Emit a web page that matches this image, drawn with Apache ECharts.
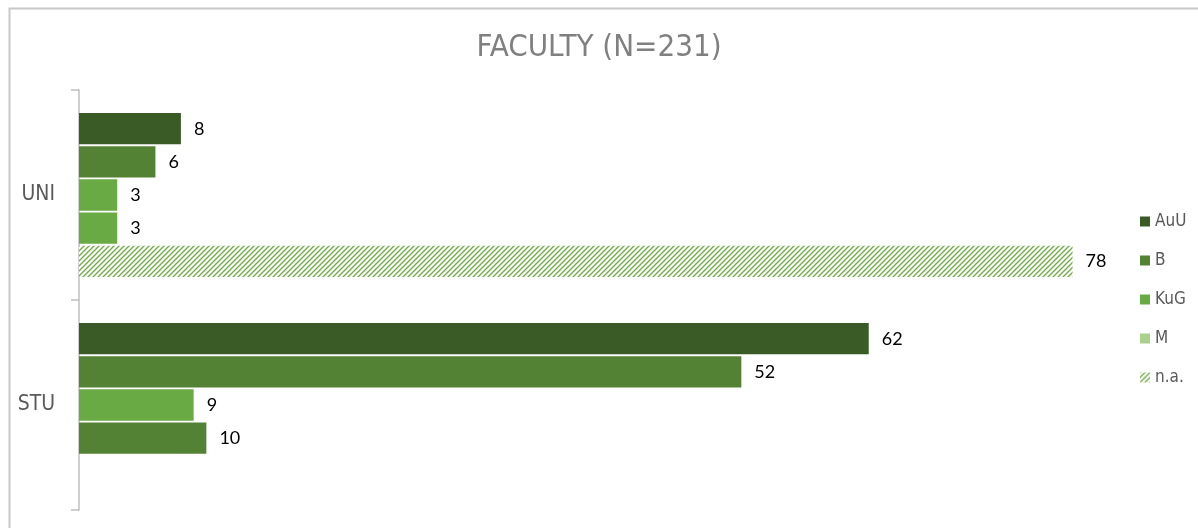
<!DOCTYPE html>
<html>
<head>
<meta charset="utf-8">
<script src="https://cdn.jsdelivr.net/npm/echarts@6/dist/echarts.min.js"></script>
<style>
html,body{margin:0;padding:0;background:#fff;}
#chart{width:1198px;height:528px;}
</style>
</head>
<body>
<div id="chart"></div>
<script>
const categories = ['UNI', 'STU'];
const seriesNames = ['AuU', 'B', 'KuG', 'M', 'n.a.'];
const auuValues = [8, 62];
const bValues = [6, 52];
const kugValues = [3, 9];
const mValues = [3, 10];
const naValues = [78, null];
const titleText = 'FACULTY (N=231)';

const cDark = '#3a5a26';
const cMid = '#548235';
const cKuG = '#6aaa44';
const cM = '#a9d18e';
const cHatch = '#70ad47';

function hatchCanvas() {
  const s = 5;
  const c = document.createElement('canvas');
  c.width = s; c.height = s;
  const ctx = c.getContext('2d');
  ctx.fillStyle = '#ffffff';
  ctx.fillRect(0, 0, s, s);
  ctx.strokeStyle = cHatch;
  ctx.lineWidth = 1.4;
  ctx.beginPath();
  ctx.moveTo(-1, s + 1); ctx.lineTo(s + 1, -1);
  ctx.moveTo(-1, 1); ctx.lineTo(1, -1);
  ctx.moveTo(s - 1, s + 1); ctx.lineTo(s + 1, s - 1);
  ctx.stroke();
  return c;
}
const hatch = { image: hatchCanvas(), repeat: 'repeat' };

const labelStyle = {
  show: true, position: 'right', distance: 13,
  color: '#000', fontSize: 18, fontFamily: 'Lato',
  formatter: p => (p.value == null ? '' : p.value)
};

function mk(name, values, color, perColors) {
  return {
    name, type: 'bar',
    data: values.map((v, i) => perColors && perColors[i] ? { value: v, itemStyle: { color: perColors[i] } } : v),
    itemStyle: { color },
    label: labelStyle,
    barGap: '6%',
    barCategoryGap: '22%'
  };
}

const chart = echarts.init(document.getElementById('chart'));
chart.setOption({
  animation: false,
  backgroundColor: '#fff',
  graphic: [{
    type: 'rect', left: 7, top: 6,
    shape: { width: 1400, height: 700 },
    style: { fill: 'none', stroke: '#c8c8c8', lineWidth: 2 },
    silent: true
  }],
  title: {
    text: titleText, left: 'center', top: 27,
    textStyle: { color: '#808080', fontSize: 31, fontWeight: 'normal', fontFamily: 'DejaVu Sans Condensed' }
  },
  legend: {
    orient: 'vertical', left: 1135, top: 208,
    itemWidth: 10, itemHeight: 10, itemGap: 22,
    textStyle: { color: '#595959', fontSize: 17, fontFamily: 'DejaVu Sans Condensed' },
    data: seriesNames.map((n, i) => ({ name: n, icon: 'rect', itemStyle: i === 3 ? { color: cM } : undefined }))
  },
  grid: { left: 79, right: 100, top: 90, bottom: 18, containLabel: false },
  xAxis: { type: 'value', min: 0, max: 80, show: false },
  yAxis: {
    type: 'category', data: categories, inverse: true,
    axisLine: { lineStyle: { color: '#bfbfbf', width: 1.5 } },
    axisTick: { show: true, length: 8, lineStyle: { color: '#bfbfbf', width: 1.5 } },
    axisLabel: { color: '#595959', fontSize: 21, fontFamily: 'DejaVu Sans Condensed', margin: 24 }
  },
  series: [
    mk('AuU', auuValues, cDark),
    mk('B', bValues, cMid),
    mk('KuG', kugValues, cKuG),
    mk('M', mValues, cM, [cKuG, cMid]),
    mk('n.a.', naValues, hatch)
  ]
});
</script>
</body>
</html>
